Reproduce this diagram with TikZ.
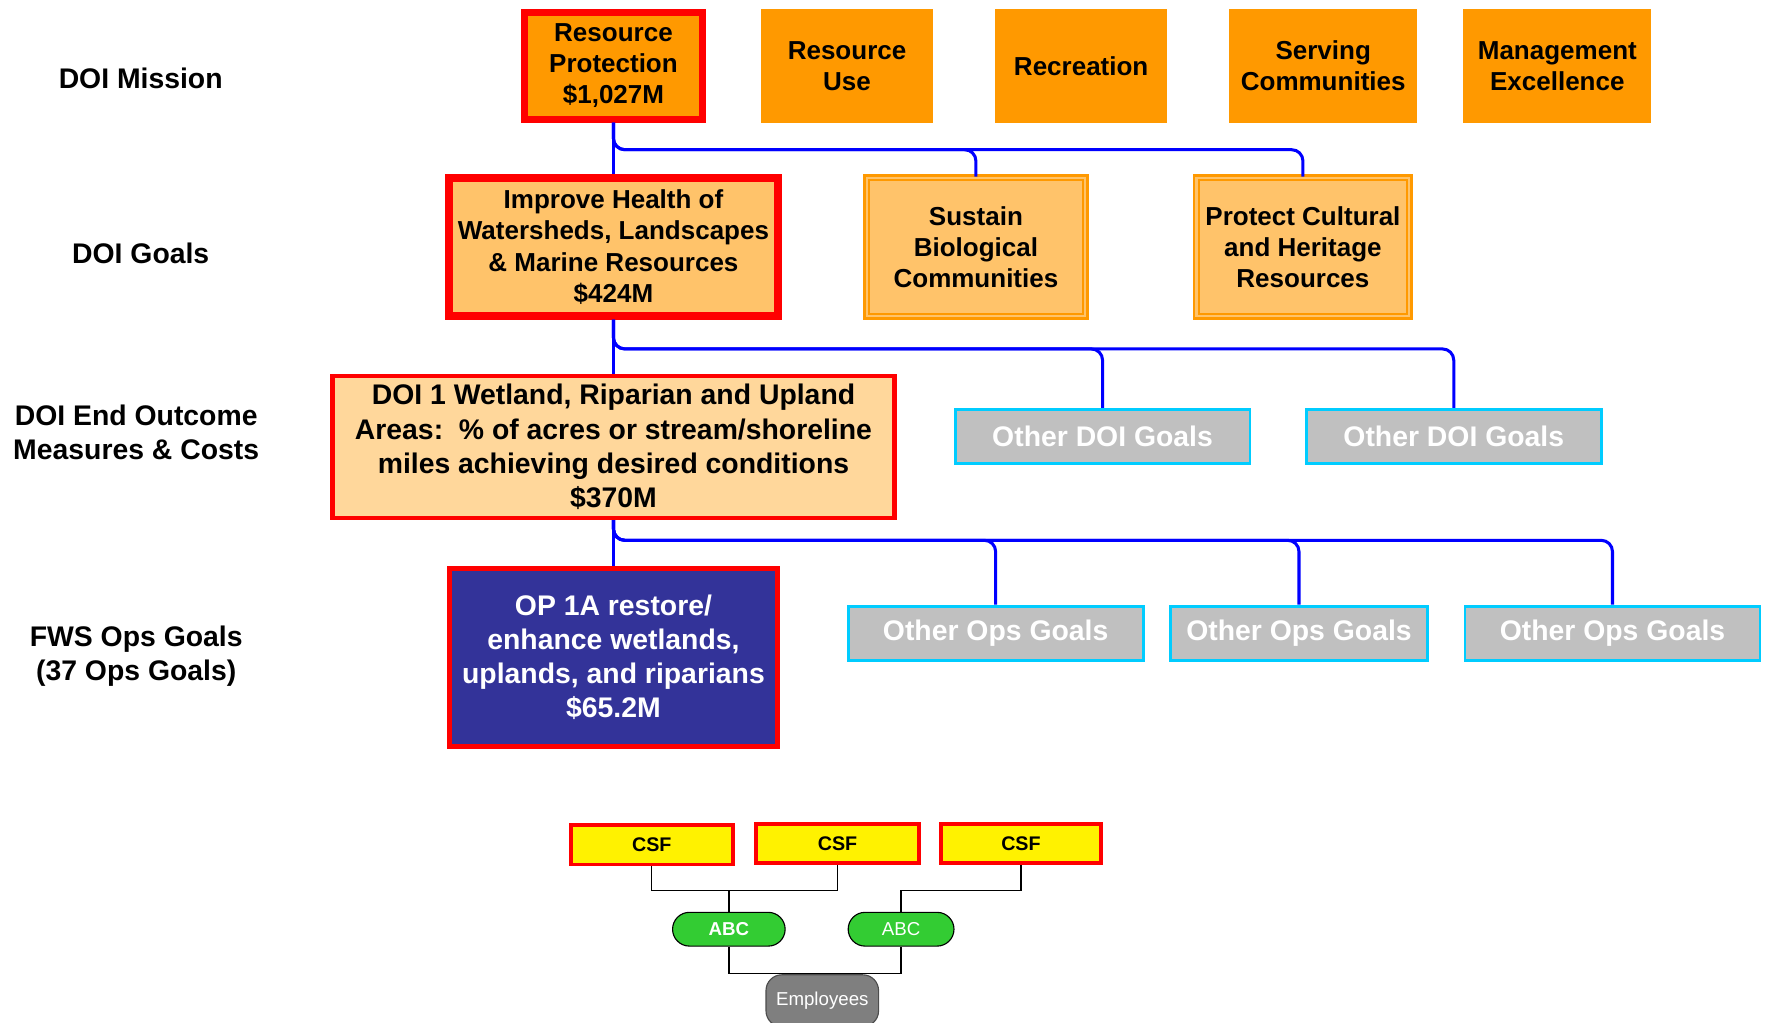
\documentclass[tikz,border=0pt]{standalone}
\usepackage{fontspec}
\setmainfont{Liberation Sans}
\newlength{\du}
\setlength{\du}{0.5pt}
\definecolor{missionorange}{HTML}{FF9900}
\definecolor{goalorange}{HTML}{FFC36A}
\definecolor{outcomepeach}{HTML}{FFD79B}
\definecolor{opsblue}{HTML}{333399}
\definecolor{othergray}{HTML}{C0C0C0}
\definecolor{othercyan}{HTML}{00CCFF}
\definecolor{abcgreen}{HTML}{33CC33}
\definecolor{staffgray}{HTML}{7F7F7F}
\tikzset{
  midtext/.style={align=center, inner sep=2\du, font=\fontsize{11.55}{13.8}\selectfont\bfseries},
  bigtext/.style={align=center, inner sep=2\du, font=\fontsize{12.6}{15.15}\selectfont\bfseries},
  rowlabel/.style={bigtext},
  mission/.style={midtext, fill=missionorange, minimum width=153\du, minimum height=101\du},
  goal/.style={midtext, fill=goalorange, draw=missionorange, line width=2\du, double=goalorange, double distance=2\du, minimum width=194\du, minimum height=123\du},
  chosen/.style={draw=red, line width=#1},
  outcome/.style={bigtext, fill=outcomepeach, minimum width=499\du, minimum height=126\du},
  opsgoal/.style={bigtext, fill=opsblue, text=white, minimum width=291\du, minimum height=158\du},
  other/.style={bigtext, fill=othergray, draw=othercyan, line width=2.5\du, text=white, minimum width=262\du, minimum height=48\du},
  csf/.style={fill=yellow, draw=red, line width=3.5\du, minimum width=144\du, minimum height=35\du, inner sep=1\du, font=\fontsize{8.75}{10}\selectfont\bfseries},
  abc/.style={fill=abcgreen, draw=black, line width=1\du, rounded corners=15\du, minimum height=30\du, inner sep=1\du, text=white, font=\fontsize{8.3}{10}\selectfont},
  staff/.style={fill=staffgray, draw=black!70, line width=1\du, rounded corners=14\du, minimum width=100\du, minimum height=46\du, inner sep=1\du, text=white, font=\fontsize{8.3}{10}\selectfont},
  bus/.style={draw=blue, line width=2.7\du, rounded corners=10\du},
  wire/.style={draw=black, line width=1.2\du},
}
\begin{document}
\begin{tikzpicture}[yscale=-1]
\useasboundingbox (0,0) rectangle (1568\du,908\du);
% row labels
\node[rowlabel] (lmission) at (125\du,70\du) {DOI Mission};
\node[rowlabel] (lgoals) at (125\du,225\du) {DOI Goals};
\node[rowlabel] (loutcome) at (121\du,384\du) {DOI End Outcome\\Measures \& Costs};
\node[rowlabel] (lops) at (121\du,583\du) {FWS Ops Goals\\(37 Ops Goals)};
% mission
\node[mission, chosen=6\du, minimum width=158\du, minimum height=95\du] (rp) at (545\du,58.5\du) {Resource\\Protection\\\$1,027M};
\node[mission] (ru) at (752.5\du,58.5\du) {Resource\\Use};
\node[mission] (rc) at (960.5\du,58.5\du) {Recreation};
\node[mission, minimum width=167\du] (sc) at (1175.5\du,58.5\du) {Serving\\Communities};
\node[mission, minimum width=167\du] (me) at (1383.5\du,58.5\du) {Management\\Excellence};
% goals
\node[midtext, fill=goalorange, chosen=7\du, minimum width=292\du, minimum height=122\du] (ih) at (545\du,219.5\du) {Improve Health of\\Watersheds, Landscapes\\\& Marine Resources\\\$424M};
\node[goal] (sb) at (867\du,219.5\du) {Sustain\\Biological\\Communities};
\node[goal, minimum width=189\du] (pc) at (1157.5\du,219.5\du) {Protect Cultural\\and Heritage\\Resources};
% end outcomes
\node[outcome, chosen=4\du] (dm1) at (545\du,397\du) {DOI 1 Wetland, Riparian and Upland\\Areas:\ \ \% of acres or stream/shoreline\\miles achieving desired conditions\\\$370M};
\node[other] (od1) at (979.5\du,387.5\du) {Other DOI Goals};
\node[other] (od2) at (1291.5\du,387.5\du) {Other DOI Goals};
% ops goals
\node[opsgoal, chosen=4\du] (op1) at (545\du,584\du) {OP 1A restore/\\enhance wetlands,\\uplands, and riparians\\\$65.2M};
\node[other] (oo1) at (884.5\du,562.5\du) {Other Ops Goals};
\node[other, minimum width=229\du] (oo2) at (1154\du,562.5\du) {Other Ops Goals};
\node[other] (oo3) at (1432.5\du,562.5\du) {Other Ops Goals};
% bus levels
\coordinate (bus1) at (0,133\du);
\coordinate (bus2) at (0,310\du);
\coordinate (bus3) at (0,480\du);
\draw[bus] (rp.south) -- (ih.north);
\draw[bus] (rp.south) |- (bus1 -| pc.north) -- (pc.north);
\draw[bus] (rp.south) |- (bus1 -| sb.north) -- (sb.north);
\draw[bus] (ih.south) -- (dm1.north);
\draw[bus] (ih.south) |- (bus2 -| od2.north) -- (od2.north);
\draw[bus] (ih.south) |- (bus2 -| od1.north) -- (od1.north);
\draw[bus] (dm1.south) -- (op1.north);
\draw[bus] (dm1.south) |- (bus3 -| oo3.north) -- (oo3.north);
\draw[bus] (dm1.south) |- (bus3 -| oo2.north) -- (oo2.north);
\draw[bus] (dm1.south) |- (bus3 -| oo1.north) -- (oo1.north);
% csf / abc / employees
\node[csf] (csf1) at (579\du,750.5\du) {CSF};
\node[csf] (csf2) at (744\du,749.5\du) {CSF};
\node[csf, minimum width=142\du] (csf3) at (907\du,749.5\du) {CSF};
\node[abc, minimum width=100\du, font=\fontsize{8.3}{10}\selectfont\bfseries] (abc1) at (647.5\du,825.5\du) {ABC};
\node[abc, minimum width=94\du] (abc2) at (800.5\du,825.5\du) {ABC};
\node[staff] (emp) at (730.5\du,889\du) {Employees};
\coordinate (cbus) at (0,791\du);
\coordinate (ebus) at (0,865\du);
\draw[wire] (csf1.south) |- (cbus -| csf2.south) -- (csf2.south);
\draw[wire] (abc1.north) -- (cbus -| abc1.north);
\draw[wire] (csf3.south) |- (cbus -| abc2.north) -- (abc2.north);
\draw[wire] (abc1.south) |- (ebus -| abc2.south) -- (abc2.south);
\end{tikzpicture}
\end{document}
